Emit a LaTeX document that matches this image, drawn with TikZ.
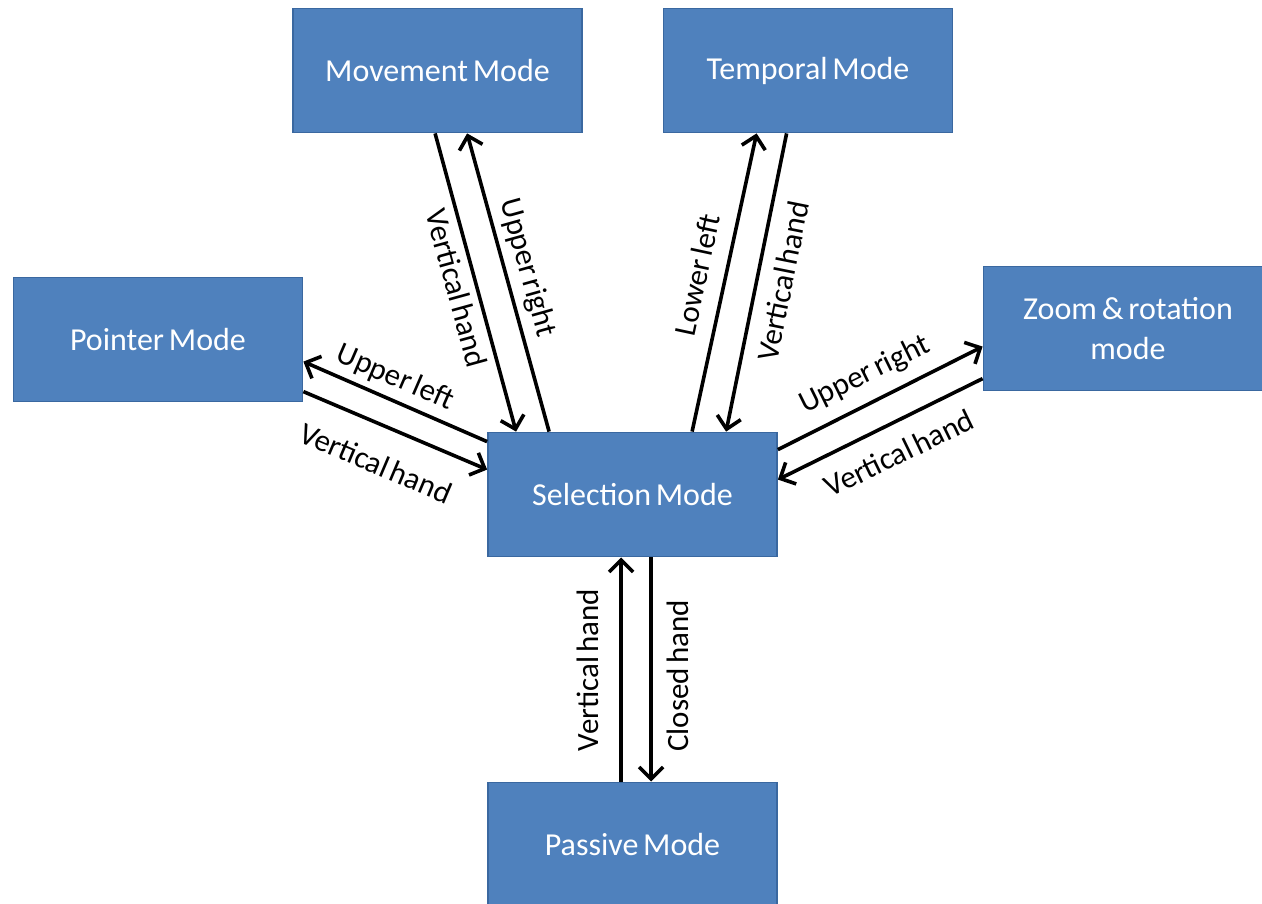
\documentclass[tikz,border=0pt]{standalone}
\usepackage{fontspec}
\setmainfont{Carlito}
\usetikzlibrary{arrows.meta,calc}
\definecolor{modefill}{HTML}{4F81BD}
\definecolor{modeedge}{HTML}{3A68A0}
\begin{document}
\begin{tikzpicture}[x=1pt,y=-1pt,
  mode/.style={rectangle, fill=modefill, draw=modeedge, line width=1.8pt,
    minimum width=289pt, minimum height=124pt, inner sep=0pt,
    text=white, align=center, font=\fontsize{32}{40}\selectfont,
    execute at begin node={\spaceskip=.15em\relax}},
  link/.style={line width=3.6pt, -{Straight Barb[length=12pt,width=24pt,line width=3.6pt]}},
  lbl/.style={inner sep=0pt, font=\fontsize{31}{36}\selectfont,
    execute at begin node={\spaceskip=.13em\relax}}]
\useasboundingbox (0,0) rectangle (1262,904);
\fill[white] (0,0) rectangle (1262,904);

% modes
\node[mode] (mov)  at (437.5,70.5)  {Movement Mode};
\node[mode] (tmp)  at (808,70.5)    {Temporal Mode};
\node[mode] (ptr)  at (158,339.5)   {Pointer Mode};
\node[mode] (zoom) at (1128,328.5)  {Zoom \& rotation\\mode};
\node[mode] (sel)  at (632.5,494.5) {Selection Mode};
\node[mode] (pas)  at (632.5,844.5) {Passive Mode};

% transitions
\draw[link] ($(mov.south west)+(143,0)$) -- ($(sel.north west)+(29,0)$);
\draw[link] ($(sel.north west)+(62,0)$)  -- ($(mov.south west)+(175,0)$);
\draw[link] ($(sel.north west)+(205,0)$) -- ($(tmp.south west)+(94,0)$);
\draw[link] ($(tmp.south west)+(124,0)$) -- ($(sel.north west)+(239,0)$);
\draw[link] ($(sel.north west)+(0,10)$)  -- ($(ptr.north east)+(0,85)$);
\draw[link] ($(ptr.north east)+(0,115)$) -- ($(sel.north west)+(0,38)$);
\draw[link] ($(sel.north east)+(0,18)$)  -- ($(zoom.north west)+(0,81)$);
\draw[link] ($(zoom.north west)+(0,113)$) -- ($(sel.north east)+(0,48)$);
\draw[link] ($(pas.north west)+(134,0)$) -- ($(sel.south west)+(134,0)$);
\draw[link] ($(sel.south west)+(164,0)$) -- ($(pas.north west)+(164,0)$);

% gesture labels
\node[lbl, rotate=-74.6] (l1)  at (457,288) {Vertical hand};
\node[lbl, rotate=-74.4] (l2)  at (527,268) {Upper right};
\node[lbl, rotate=77.9]  (l3)  at (697,275) {Lower left};
\node[lbl, rotate=78.7]  (l4)  at (783,281) {Vertical hand};
\node[lbl, rotate=-23.4] (l5)  at (395,378) {Upper left};
\node[lbl, rotate=-23.0] (l6)  at (376,463) {Vertical hand};
\node[lbl, rotate=26.3]  (l7)  at (865,375) {Upper right};
\node[lbl, rotate=25.9]  (l8)  at (899,453) {Vertical hand};
\node[lbl, rotate=90]    (l9)  at (588,670) {Vertical hand};
\node[lbl, rotate=90]    (l10) at (678,676) {Closed hand};
\end{tikzpicture}
\end{document}
